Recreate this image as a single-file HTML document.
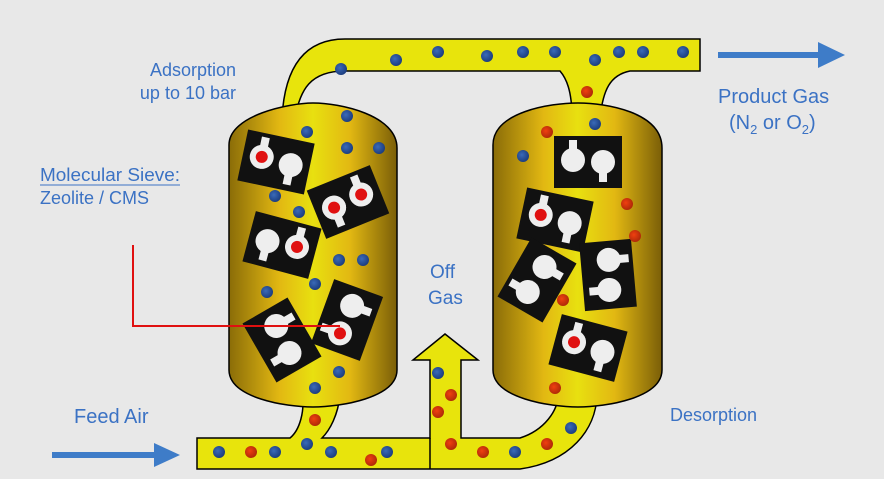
<!DOCTYPE html>
<html><head><meta charset="utf-8"><style>
html,body{margin:0;padding:0;background:#e8e8e8;}
svg{display:block;font-family:"Liberation Sans",sans-serif;}
</style></head><body>
<svg width="884" height="479" viewBox="0 0 884 479" xmlns="http://www.w3.org/2000/svg">
<defs>
<linearGradient id="g" x1="0" x2="1" y1="0" y2="0">
<stop offset="0" stop-color="#8a6c08"/>
<stop offset="0.3" stop-color="#e2b812"/>
<stop offset="0.5" stop-color="#e8e010"/>
<stop offset="0.72" stop-color="#e2b812"/>
<stop offset="1" stop-color="#7a5e08"/>
</linearGradient>
<radialGradient id="bd" cx="0.4" cy="0.4" r="0.6"><stop offset="0" stop-color="#3a6ab8"/><stop offset="1" stop-color="#1c3e80"/></radialGradient>
<radialGradient id="rd" cx="0.4" cy="0.4" r="0.6"><stop offset="0" stop-color="#f04010"/><stop offset="1" stop-color="#b02a08"/></radialGradient>
<g id="kh"><rect x="-4" y="0" width="8" height="20" fill="#eee"/><circle r="12" fill="#eee"/></g>
<g id="blk"><rect x="-34" y="-26" width="68" height="52" fill="#111"/>
<g transform="translate(-15,-2) rotate(180)"><use href="#kh"/></g>
<g transform="translate(15,0)"><use href="#kh"/></g></g>
<g id="blkR"><use href="#blk"/><circle cx="-15" cy="-2" r="6" fill="#e01010"/></g>
</defs>
<path d="M295,118 C300,90 310,71 345,71 L560,71 C566,78 572,90 572,118 L600,118 C603,90 610,75 630,71 L700,71 L700,39 L345,39 C310,39 285,60 282,118 Z" fill="#e8e40c" stroke="#000" stroke-width="1.5"/>
<path d="M197,438 L290,438 C300,430 305,410 302,395 L340,395 C338,415 330,430 322,438 L430,438 L430,360 L413,360 L445,334 L478,360 L461,360 L461,438 L520,438 C545,430 558,410 558,395 L597,395 C596,430 570,462 520,469 L197,469 Z" fill="#e8e40c" stroke="#000" stroke-width="1.5"/>
<line x1="430" y1="438" x2="430" y2="469" stroke="#000" stroke-width="1.5"/>
<path d="M229,145 C229,115 290,103 313,103 C340,103 397,115 397,148 L397,370 C397,398 340,407 313,407 C286,407 229,398 229,370 Z" fill="url(#g)" stroke="#000" stroke-width="1.5"/>
<path d="M493,145 C493,112 550,103 578,103 C606,103 662,112 662,148 L662,370 C662,398 606,407 578,407 C550,407 493,398 493,370 Z" fill="url(#g)" stroke="#000" stroke-width="1.5"/>
<g transform="translate(276,162) rotate(12)"><use href="#blkR"/></g>
<g transform="translate(348,202) rotate(-22) scale(-1,1)"><use href="#blk"/><circle cx="-15" cy="-2" r="6" fill="#e01010"/><circle cx="15" cy="0" r="12" fill="#eee"/><circle cx="15" cy="0" r="6" fill="#e01010"/></g>
<g transform="translate(282,245) rotate(15) scale(-1,1)"><use href="#blkR"/></g>
<g transform="translate(347,320) rotate(-70)"><use href="#blkR"/></g>
<g transform="translate(282,340) rotate(60)"><use href="#blk"/></g>
<g transform="translate(588,162) rotate(0)"><use href="#blk"/></g>
<g transform="translate(555,220) rotate(12)"><use href="#blkR"/></g>
<g transform="translate(537,280) rotate(-60)"><use href="#blk"/></g>
<g transform="translate(608,275) rotate(85)"><use href="#blk"/></g>
<g transform="translate(588,348) rotate(15)"><use href="#blkR"/></g>
<g fill="url(#bd)">
<circle cx="341" cy="69" r="6"/><circle cx="396" cy="60" r="6"/><circle cx="438" cy="52" r="6"/><circle cx="487" cy="56" r="6"/><circle cx="523" cy="52" r="6"/><circle cx="555" cy="52" r="6"/><circle cx="595" cy="60" r="6"/><circle cx="619" cy="52" r="6"/><circle cx="643" cy="52" r="6"/><circle cx="683" cy="52" r="6"/>
<circle cx="347" cy="116" r="6"/><circle cx="307" cy="132" r="6"/><circle cx="347" cy="148" r="6"/><circle cx="379" cy="148" r="6"/><circle cx="275" cy="196" r="6"/><circle cx="299" cy="212" r="6"/><circle cx="339" cy="260" r="6"/><circle cx="363" cy="260" r="6"/><circle cx="315" cy="284" r="6"/><circle cx="267" cy="292" r="6"/><circle cx="339" cy="372" r="6"/><circle cx="315" cy="388" r="6"/>
<circle cx="595" cy="124" r="6"/><circle cx="523" cy="156" r="6"/><circle cx="219" cy="452" r="6"/><circle cx="275" cy="452" r="6"/><circle cx="307" cy="444" r="6"/><circle cx="331" cy="452" r="6"/><circle cx="387" cy="452" r="6"/><circle cx="438" cy="373" r="6"/><circle cx="515" cy="452" r="6"/><circle cx="571" cy="428" r="6"/>
</g>
<g fill="url(#rd)">
<circle cx="587" cy="92" r="6"/><circle cx="547" cy="132" r="6"/><circle cx="627" cy="204" r="6"/><circle cx="635" cy="236" r="6"/><circle cx="563" cy="300" r="6"/><circle cx="315" cy="420" r="6"/><circle cx="251" cy="452" r="6"/><circle cx="371" cy="460" r="6"/><circle cx="451" cy="395" r="6"/><circle cx="438" cy="412" r="6"/><circle cx="451" cy="444" r="6"/><circle cx="483" cy="452" r="6"/><circle cx="547" cy="444" r="6"/><circle cx="555" cy="388" r="6"/>
</g>
<polyline points="133,245 133,326 340,326" fill="none" stroke="#e01010" stroke-width="2"/>
<rect x="52" y="452" width="104" height="6" fill="#3e7cc8"/><polygon points="154,443 180,455 154,467" fill="#3e7cc8"/>
<rect x="718" y="52" width="102" height="6" fill="#3e7cc8"/><polygon points="818,42 845,55 818,68" fill="#3e7cc8"/>
<g fill="#3b72c4">
<text x="236" y="76" text-anchor="end" font-size="18">Adsorption</text>
<text x="236" y="99" text-anchor="end" font-size="18">up to 10 bar</text>
<text x="40" y="181" font-size="18" textLength="140" lengthAdjust="spacingAndGlyphs">Molecular Sieve:</text>
<text x="40" y="204" font-size="18">Zeolite / CMS</text>
<text x="430" y="278" font-size="19">Off</text>
<text x="428" y="304" font-size="19">Gas</text>
<text x="74" y="423" font-size="20">Feed Air</text>
<text x="670" y="421" font-size="18">Desorption</text>
<text x="718" y="103" font-size="20">Product Gas</text>
<text x="729" y="129" font-size="20">(N<tspan font-size="13" dy="5">2</tspan><tspan dy="-5"> or O</tspan><tspan font-size="13" dy="5">2</tspan><tspan dy="-5">)</tspan></text>
</g>
<line x1="40" y1="185" x2="180" y2="185" stroke="#3b72c4" stroke-width="1"/>
</svg>
</body></html>
